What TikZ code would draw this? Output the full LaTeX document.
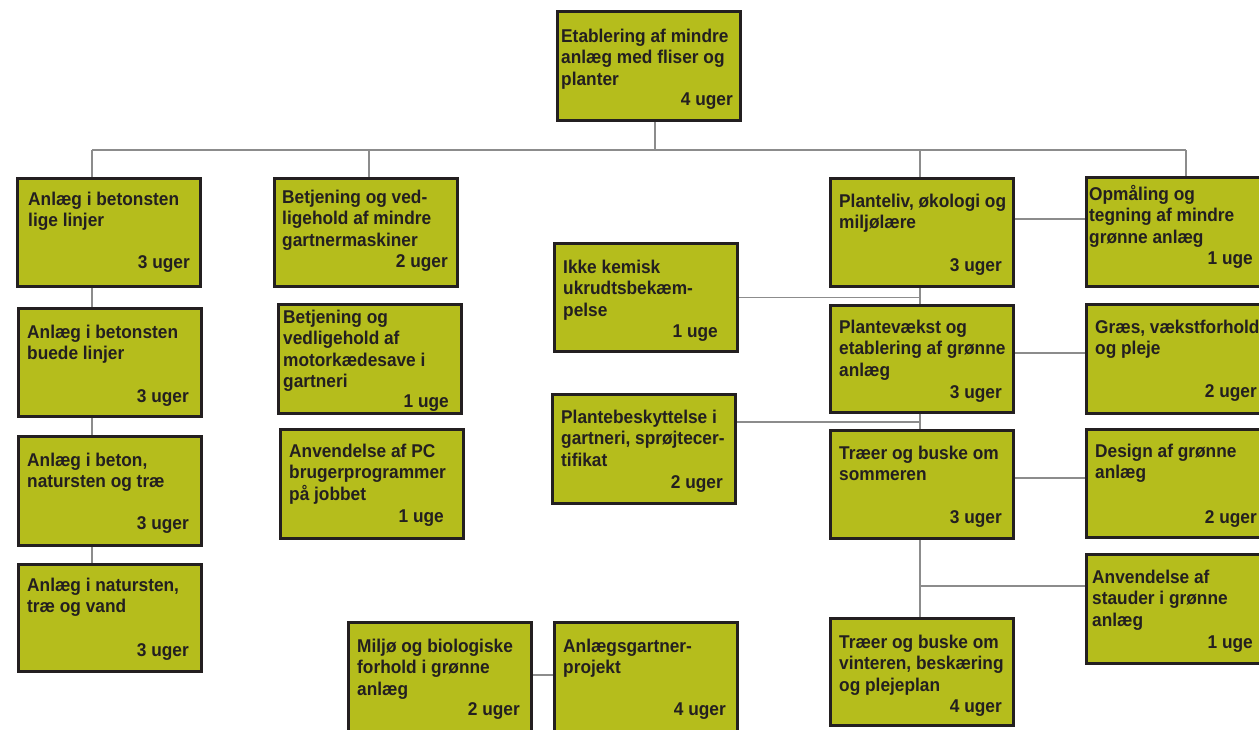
\documentclass[tikz,border=0pt]{standalone}
\usepackage{fontspec}
\setmainfont{Liberation Sans}[FakeStretch=0.935]
\definecolor{boxfill}{HTML}{B5BD1C}
\definecolor{boxline}{HTML}{231F20}
\definecolor{connline}{HTML}{8C8C8C}
\tikzset{
  kbox/.style={draw=boxline, fill=boxfill, line width=3pt, minimum width=183pt, inner sep=0pt},
  ktitle/.style={anchor=base west, inner sep=0pt, text=boxline, font=\fontsize{18.5}{21.5}\selectfont\bfseries},
  kuger/.style={anchor=base east, inner sep=0pt, text=boxline, font=\fontsize{18.5}{21.5}\selectfont\bfseries},
  conn/.style={draw=connline, line width=1.5pt}
}
\newcommand\kursus[9]{%
  \node[kbox, minimum height={#4-#3-3}, anchor=north west] (#1) at (#2,#3) {};
  \node[ktitle] (#1-t) at (#5,#6) {\parbox[t]{240pt}{\raggedright #7}};
  \node[kuger] (#1-u) at #8 {#9};
}
\begin{document}
\begin{tikzpicture}[x=1pt,y=-1pt]
\useasboundingbox (0,0) rectangle (1259,729);
\clip (0,0) rectangle (1259,729);
% trunk coordinates
\coordinate (jA) at (655,150);
\coordinate (jB) at (92,150);
\coordinate (jC) at (369,150);
\coordinate (jE) at (920,150);
\coordinate (jF) at (1186,150);
\kursus{A}{556}{10}{122}{561}{42}{Etablering af mindre\\anlæg med fliser og\\planter}{(733,105)}{4 uger}
\kursus{B1}{16}{177}{288}{28}{205}{Anlæg i betonsten\\lige linjer}{(190,268)}{3 uger}
\kursus{B2}{17}{307}{418}{27}{338}{Anlæg i betonsten\\buede linjer}{(189,402)}{3 uger}
\kursus{B3}{17}{435}{547}{27}{466}{Anlæg i beton,\\natursten og træ}{(189,529)}{3 uger}
\kursus{B4}{17}{563}{673}{27}{591}{Anlæg i natursten,\\træ og vand}{(189,656)}{3 uger}
\kursus{C1}{273}{177}{288}{282}{203}{Betjening og ved-\\ligehold af mindre\\gartnermaskiner}{(448,267)}{2 uger}
\kursus{C2}{277}{303}{415}{283}{323}{Betjening og\\vedligehold af\\motorkædesave i\\gartneri}{(449,407)}{1 uge}
\kursus{C3}{279}{428}{540}{289}{457}{Anvendelse af PC\\brugerprogrammer\\på jobbet}{(444,522)}{1 uge}
\kursus{D1}{553}{242}{353}{563}{273}{Ikke kemisk\\ukrudtsbekæm-\\pelse}{(718,337)}{1 uge}
\kursus{D2}{551}{393}{505}{561}{423}{Plantebeskyttelse i\\gartneri, sprøjtecer-\\tifikat}{(723,488)}{2 uger}
\kursus{E1}{829}{177}{288}{839}{207}{Planteliv, økologi og\\miljølære}{(1002,271)}{3 uger}
\kursus{E2}{829}{304}{414}{839}{333}{Plantevækst og\\etablering af grønne\\anlæg}{(1002,398)}{3 uger}
\kursus{E3}{829}{429}{540}{839}{459}{Træer og buske om\\sommeren}{(1002,523)}{3 uger}
\kursus{E4}{829}{617}{727}{839}{648}{Træer og buske om\\vinteren, beskæring\\og plejeplan}{(1002,712)}{4 uger}
\kursus{F1}{1085}{176}{288}{1089}{200}{Opmåling og\\tegning af mindre\\grønne anlæg}{(1253,264)}{1 uge}
\kursus{F2}{1085}{303}{415}{1095}{333}{Græs, vækstforhold\\og pleje}{(1257,397)}{2 uger}
\kursus{F3}{1085}{428}{539}{1095}{457}{Design af grønne\\anlæg}{(1257,523)}{2 uger}
\kursus{F4}{1085}{553}{665}{1092}{583}{Anvendelse af\\stauder i grønne\\anlæg}{(1253,648)}{1 uge}
\kursus{G1}{347}{621}{736}{357}{652}{Miljø og biologiske\\forhold i grønne\\anlæg}{(520,715)}{2 uger}
\kursus{G2}{553}{621}{736}{563}{652}{Anlægsgartner-\\projekt}{(726,715)}{4 uger}
% side junctions
\coordinate (hD2) at (920,422);
\coordinate (hF1) at (1085,219);
\coordinate (hF2) at (1085,353);
\coordinate (hF3) at (1085,478);
\coordinate (hF4) at (920,586);
\coordinate (hG) at (553,675);
% connectors
\draw[conn] (jA |- A.south) -- (jA);
\draw[conn] (jB) -- (jF);
\draw[conn] (jB) -- (jB |- B1.north);
\draw[conn] (jB |- B1.south) -- (jB |- B2.north);
\draw[conn] (jB |- B2.south) -- (jB |- B3.north);
\draw[conn] (jB |- B3.south) -- (jB |- B4.north);
\draw[conn] (jC) -- (jC |- C1.north);
\draw[conn] (jE) -- (jE |- E1.north);
\draw[conn] (jE |- E1.south) -- (jE |- E2.north);
\draw[conn] (jE |- E2.south) -- (jE |- E3.north);
\draw[conn] (jE |- E3.south) -- (jE |- E4.north);
\draw[conn] (jF) -- (jF |- F1.north);
\draw[conn] (D1.east) -- (D1.east -| jE);
\draw[conn] (hD2 -| D2.east) -- (hD2);
\draw[conn] (hF1 -| E1.east) -- (hF1 -| F1.west);
\draw[conn] (hF2 -| E2.east) -- (hF2 -| F2.west);
\draw[conn] (hF3 -| E3.east) -- (hF3 -| F3.west);
\draw[conn] (hF4) -- (hF4 -| F4.west);
\draw[conn] (hG -| G1.east) -- (hG -| G2.west);
\end{tikzpicture}
\end{document}
